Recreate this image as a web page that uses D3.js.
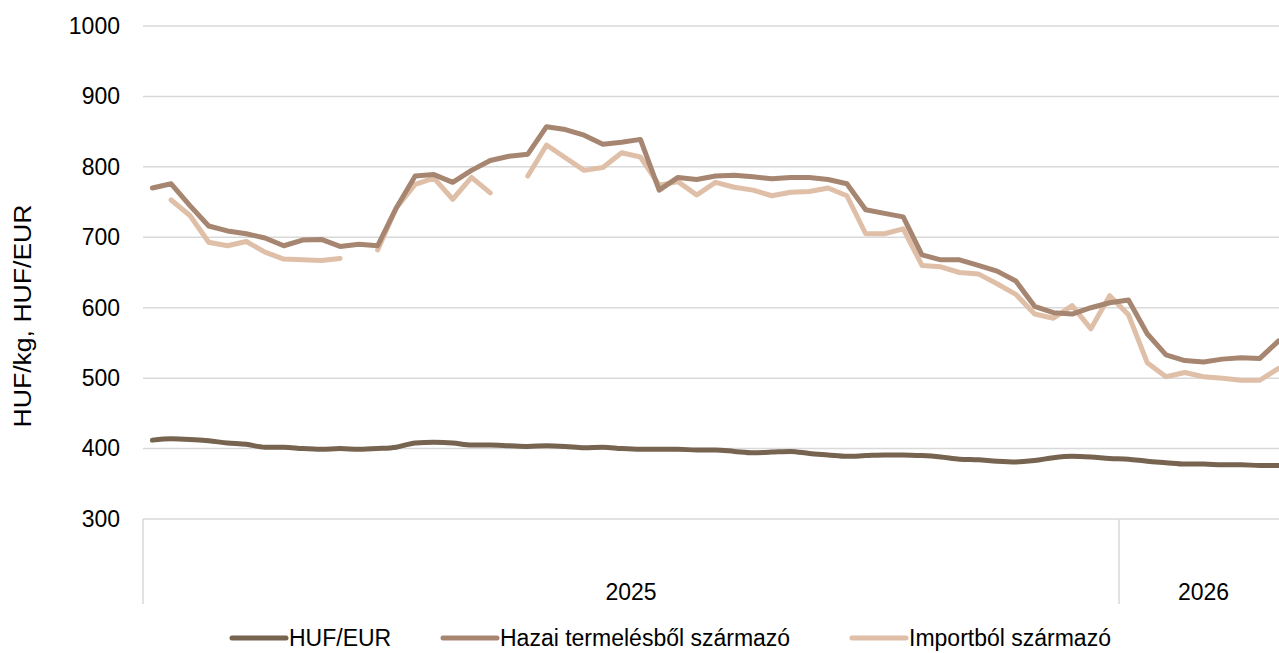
<!DOCTYPE html>
<html>
<head>
<meta charset="utf-8">
<script src="https://cdn.jsdelivr.net/npm/d3@7"></script>
<style>
  body { margin: 0; background: #fff; }
  text { font-family: "Liberation Sans", Arial, sans-serif; fill: #000; }
  .grid line { stroke: #d9d9d9; stroke-width: 1.5; }
  .line { fill: none; stroke-width: 5; stroke-linejoin: round; stroke-linecap: round; }
</style>
</head>
<body>
<div class="center"></div>
<script>
// tick labels / categories
var years = ['2025', '2026'];
var weeksInYear = [52, 9];
var yTicks = [300, 400, 500, 600, 700, 800, 900, 1000];

// series (weekly values, null = no data)
var hufEur = [412, 414, 413, 411, 408, 406, 402, 402, 400, 399, 400, 399, 400, 402, 408, 409, 408, 405, 405, 404,
  403, 404, 403, 401, 402, 400, 399, 399, 399, 398, 398, 396, 394, 395, 396, 393, 391, 389, 390, 391,
  391, 390, 388, 385, 384, 382, 381, 383, 387, 389, 388, 386, 385, 382, 380, 378, 378, 377, 377, 376, 376];

var hazai = [770, 776, 745, 716, 709, 705, 699, 688, 696, 697, 687, 690, 688, 742, 787, 789, 778, 795, 809, 815,
  818, 857, 853, 845, 832, 835, 839, 767, 785, 782, 787, 788, 786, 783, 785, 785, 782, 776, 739, 734,
  729, 675, 668, 668, 660, 652, 638, 602, 593, 591, 600, 607, 611, 563, 533, 525, 523, 527, 529, 528, 553];

var importbol = [null, 753, 731, 693, 688, 694, 679, 669, 668, 667, 670, null, 682, 742, 775, 784, 754, 785, 763, null,
  787, 831, 813, 795, 799, 820, 814, 774, 779, 760, 778, 771, 767, 759, 764, 765, 770, 759, 705, 705,
  712, 660, 658, 650, 648, 634, 619, 591, 585, 603, 570, 617, 590, 522, 502, 508, 502, 500, 497, 497, 514];

var seriesNames = ['HUF/EUR', 'Hazai termelésből származó', 'Importból származó'];
var colors = ['#766350', '#a68670', '#dfbfa7'];

// week categories
var weeks = [];
years.forEach(function(yr, j) {
  for (var w = 1; w <= weeksInYear[j]; w++) weeks.push(yr + '-' + w);
});

var width = 1279, height = 653;
var plot = {left: 143, right: 1288, top: 26, bottom: 519};

var svg = d3.select(".center").append("svg")
    .attr("width", width)
    .attr("height", height);

var x = d3.scaleBand().domain(weeks).range([plot.left, plot.right]);
var y = d3.scaleLinear().domain([300, 1000]).range([plot.bottom, plot.top]);

// gridlines
svg.append("g")
    .attr("class", "grid")
    .selectAll("line")
    .data(yTicks)
  .enter().append("line")
    .attr("x1", plot.left)
    .attr("x2", width)
    .attr("y1", function(d) { return y(d); })
    .attr("y2", function(d) { return y(d); });

// y axis labels
var yAxis = svg.append("g")
    .attr("transform", "translate(" + plot.left + ",0)")
    .call(d3.axisLeft(y).tickValues(yTicks).tickFormat(d3.format("d")).tickSize(0).tickPadding(23));
yAxis.select(".domain").remove();
yAxis.selectAll("text").style("font-size", "23px").attr("fill", "#000");

svg.append("text")
    .attr("transform", "translate(31,316) rotate(-90)")
    .attr("text-anchor", "middle")
    .style("font-size", "23px")
    .attr("textLength", 223)
    .attr("lengthAdjust", "spacingAndGlyphs")
    .text("HUF/kg, HUF/EUR");

// year separators and labels
var yearStart = 0;
years.forEach(function(yr, j) {
  var first = weeks[yearStart], last = weeks[yearStart + weeksInYear[j] - 1];
  var x0 = x(first), x1 = x(last) + x.bandwidth();
  svg.append("line")
      .attr("x1", x0).attr("x2", x0)
      .attr("y1", plot.bottom).attr("y2", 604)
      .attr("stroke", "#d9d9d9").attr("stroke-width", 1.5);
  svg.append("text")
      .attr("x", (x0 + x1) / 2)
      .attr("y", 600)
      .attr("text-anchor", "middle")
      .style("font-size", "23px")
      .text(yr);
  yearStart += weeksInYear[j];
});

// lines
var line = d3.line()
    .defined(function(d) { return d != null; })
    .x(function(d, i) { return x(weeks[i]) + x.bandwidth() / 2; })
    .y(function(d) { return y(d); });

[importbol, hazai, hufEur].forEach(function(s, k) {
  var idx = 2 - k;
  svg.append("path")
      .datum(s)
      .attr("class", "line")
      .attr("stroke", colors[idx])
      .attr("d", idx === 0 ? line.curve(d3.curveMonotoneX)(s) : line.curve(d3.curveLinear)(s));
});

// legend
var legendX = [232, 443, 852];
var legend = svg.append("g");
seriesNames.forEach(function(name, i) {
  legend.append("line")
      .attr("x1", legendX[i]).attr("x2", legendX[i] + 54)
      .attr("y1", 638).attr("y2", 638)
      .attr("stroke", colors[i]).attr("stroke-width", 5).attr("stroke-linecap", "round");
  legend.append("text")
      .attr("x", legendX[i] + 57)
      .attr("y", 646)
      .style("font-size", "23px")
      .text(name);
});
</script>
</body>
</html>
